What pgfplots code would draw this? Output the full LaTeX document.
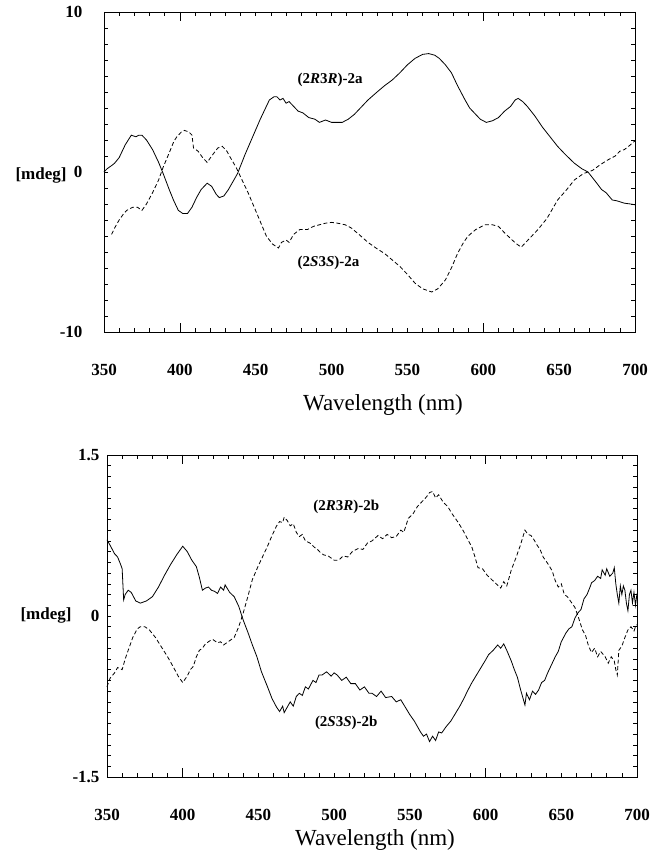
\documentclass[border=0pt]{standalone}
\usepackage{fontspec}
\setmainfont{Liberation Serif}
\usepackage{pgfplots}
\pgfplotsset{compat=1.18}

\pgfplotsset{
  cdaxis/.style={
    scale only axis,
    xmin=350, xmax=700,
    xtick={350,400,...,700},
    minor x tick num=4,
    tick align=inside,
    major tick length=4pt,
    minor tick length=4pt,
    tick style={black, line width=0.5pt},
    axis line style={line width=0.7pt},
    extra x ticks={400,600},
    extra x tick labels={},
    extra x tick style={major tick length=9pt},
    xticklabel style={font=\fontsize{17}{20}\selectfont\bfseries, yshift=-29pt},
    yticklabel style={font=\fontsize{17}{20}\selectfont\bfseries},
    /pgf/number format/assume math mode=true,
    clip=false,
  },
  solid curve/.style={black, line width=0.8pt},
  dashed curve/.style={black, line width=0.8pt, dash pattern=on 4pt off 2.5pt},
}

\begin{document}
\begin{tikzpicture}
\path[use as bounding box] (0pt,0pt) rectangle (649pt,856pt);

% ---- top panel: 2a ----
\begin{axis}[cdaxis,
    at={(104pt,524pt)}, anchor=south west,
    width=531pt, height=320pt,
    ymin=-10, ymax=10,
    ytick={-10,0,10}, yticklabels={-10,0,10},
    minor y tick num=9,
    yticklabel style={xshift=-18pt},
]
\addplot[solid curve] coordinates {
(350,0.0) (352,0.2) (355,0.4) (357,0.55) (360,0.9) (364,1.7) (368,2.3) (371,2.2) (373,2.3) (375,2.3)
(378,2.0) (382,1.4) (386,0.6) (389,-0.1) (393,-1.1) (396,-1.8) (399,-2.4) (402,-2.6) (405,-2.6) (408,-2.2)
(411,-1.6) (414,-1.1) (418,-0.7) (421,-0.9) (424,-1.4) (426,-1.6) (429,-1.5) (432,-1.1) (435,-0.6) (438,-0.1)
(443,1.1) (448,2.2) (453,3.3) (459,4.5) (462,4.7) (464,4.7) (466,4.5) (468,4.6) (470,4.3) (472,4.4)
(475,4.1) (478,3.8) (481,3.7) (485,3.4) (489,3.3) (492,3.1) (496,3.25) (500,3.1) (504,3.1) (507,3.1)
(511,3.3) (515,3.6) (520,4.1) (524,4.5) (530,5.0) (535,5.4) (540,5.75) (545,6.2) (550,6.7) (555,7.1)
(560,7.35) (564,7.4) (568,7.3) (571,7.1) (575,6.7) (579,6.2) (583,5.4) (588,4.5) (591,4.0) (595,3.6)
(598,3.3) (602,3.1) (606,3.2) (610,3.4) (614,3.8) (618,4.1) (621,4.5) (623,4.6) (626,4.4) (629,4.1)
(634,3.5) (639,2.8) (644,2.2) (649,1.6) (654,1.1) (660,0.55) (665,0.2) (669,0.0) (674,-0.6) (678,-1.1)
(681,-1.3) (685,-1.75) (688,-1.8) (693,-1.95) (697,-2.0) (700,-2.05)
};
\addplot[dashed curve] coordinates {
(355,-3.9) (357,-3.5) (360,-3.0) (363,-2.6) (365,-2.4) (369,-2.2) (372,-2.2) (375,-2.4) (378,-2.0) (382,-1.3)
(386,-0.5) (389,0.3) (393,1.2) (396,1.9) (398,2.2) (401,2.5) (403,2.6) (406,2.5) (408,2.3) (409,1.5)
(412,1.3) (415,0.9) (418,0.6) (421,1.0) (425,1.5) (428,1.6) (431,1.3) (433,0.95) (437,0.3) (440,-0.3)
(445,-1.3) (449,-2.2) (453,-3.1) (457,-4.0) (461,-4.5) (465,-4.75) (467,-4.4) (470,-4.25) (472,-4.4) (475,-3.9)
(479,-3.6) (484,-3.6) (488,-3.4) (492,-3.3) (496,-3.2) (500,-3.15) (504,-3.2) (509,-3.3) (513,-3.5) (518,-3.9)
(524,-4.4) (530,-4.8) (535,-5.1) (540,-5.5) (545,-5.9) (550,-6.4) (555,-6.95) (560,-7.3) (566,-7.5) (570,-7.3)
(575,-6.75) (579,-6.0) (583,-5.1) (587,-4.4) (590,-4.0) (595,-3.6) (601,-3.3) (606,-3.3) (610,-3.4) (614,-3.8)
(619,-4.25) (622,-4.5) (625,-4.7) (630,-4.2) (636,-3.6) (642,-2.9) (649,-1.75) (655,-1.1) (660,-0.5) (666,-0.1)
(672,0.1) (677,0.45) (682,0.75) (687,1.0) (690,1.3) (693,1.4) (697,1.7) (700,1.95)
};
\node[font=\fontsize{15}{18}\selectfont\bfseries] at (axis cs:499,5.75) {(2\textit{R}3\textit{R})-2a};
\node[font=\fontsize{15}{18}\selectfont\bfseries] at (axis cs:498,-5.7) {(2\textit{S}3\textit{S})-2a};
\end{axis}
\node[anchor=west, font=\fontsize{17}{20}\selectfont\bfseries] at (12pt,681pt) {[mdeg]};
\node[font=\fontsize{23}{26}\selectfont] at (383pt,451pt) {Wavelength (nm)};

% ---- bottom panel: 2b ----
\begin{axis}[cdaxis,
    at={(107pt,79pt)}, anchor=south west,
    width=530pt, height=322pt,
    ymin=-1.5, ymax=1.5,
    ytick={-1.5,0,1.5}, yticklabels={-1.5,0,1.5},
    minor y tick num=14,
    yticklabel style={xshift=-4pt},
]
\addplot[solid curve] coordinates {
(350,0.71) (352,0.66) (355,0.58) (357,0.55) (359,0.48) (360,0.44) (361,0.15) (362,0.2) (364,0.24) (366,0.22)
(369,0.14) (372,0.12) (376,0.14) (380,0.18) (384,0.27) (388,0.38) (392,0.48) (396,0.57) (400,0.65) (403,0.6)
(406,0.52) (409,0.46) (411,0.36) (413,0.24) (415,0.26) (417,0.27) (419,0.24) (421,0.23) (423,0.21) (425,0.27)
(427,0.24) (428,0.29) (431,0.22) (434,0.18) (437,0.09) (440,-0.04) (443,-0.15) (446,-0.27) (449,-0.38) (452,-0.52)
(456,-0.66) (459,-0.77) (462,-0.85) (464,-0.89) (466,-0.84) (467,-0.9) (469,-0.85) (471,-0.8) (473,-0.84) (475,-0.75)
(477,-0.72) (479,-0.74) (481,-0.66) (483,-0.68) (486,-0.6) (488,-0.62) (490,-0.55) (492,-0.55) (495,-0.52) (498,-0.56)
(500,-0.53) (502,-0.55) (505,-0.6) (508,-0.57) (511,-0.63) (514,-0.63) (517,-0.69) (520,-0.66) (523,-0.72) (525,-0.72)
(528,-0.75) (531,-0.7) (534,-0.76) (538,-0.75) (541,-0.8) (544,-0.78) (547,-0.85) (550,-0.92) (553,-0.98) (555,-1.03)
(557,-1.08) (559,-1.12) (561,-1.1) (563,-1.17) (565,-1.12) (567,-1.16) (569,-1.08) (571,-1.09) (574,-1.03) (577,-0.98)
(580,-0.91) (583,-0.84) (586,-0.76) (588,-0.7) (591,-0.62) (594,-0.55) (597,-0.48) (600,-0.41) (602,-0.36) (605,-0.32)
(608,-0.27) (610,-0.3) (612,-0.26) (614,-0.32) (617,-0.42) (619,-0.5) (621,-0.57) (623,-0.68) (625,-0.78) (626,-0.83)
(627,-0.72) (629,-0.78) (631,-0.7) (633,-0.73) (635,-0.69) (637,-0.62) (639,-0.6) (641,-0.53) (644,-0.44) (646,-0.38)
(648,-0.33) (650,-0.24) (653,-0.16) (655,-0.12) (657,-0.1) (659,-0.02) (661,0.03) (663,0.06) (665,0.16) (667,0.2)
(669,0.27) (670,0.31) (672,0.33) (674,0.37) (676,0.35) (677,0.43) (679,0.38) (680,0.44) (682,0.37) (684,0.4)
(685,0.45) (686,0.3) (687,0.2) (688,0.12) (689,0.28) (690,0.2) (691,0.28) (692,0.24) (693,0.12) (694,0.05)
(695,0.2) (696,0.24) (697,0.12) (698,0.22) (699,0.1) (700,0.21)
};
\addplot[dashed curve] coordinates {
(350,-0.66) (352,-0.58) (355,-0.53) (357,-0.48) (360,-0.5) (362,-0.4) (364,-0.32) (367,-0.2) (370,-0.12) (372,-0.1)
(375,-0.1) (378,-0.13) (382,-0.2) (386,-0.29) (390,-0.38) (394,-0.48) (397,-0.56) (400,-0.62) (403,-0.56) (405,-0.5)
(407,-0.47) (409,-0.38) (411,-0.32) (413,-0.3) (415,-0.26) (418,-0.23) (420,-0.22) (423,-0.25) (425,-0.24) (427,-0.27)
(430,-0.24) (434,-0.2) (437,-0.1) (440,0.03) (443,0.18) (446,0.34) (450,0.47) (453,0.56) (456,0.65) (459,0.75)
(462,0.84) (464,0.88) (466,0.87) (467,0.92) (469,0.89) (471,0.84) (473,0.86) (475,0.78) (477,0.74) (479,0.76)
(481,0.7) (484,0.68) (487,0.64) (489,0.62) (491,0.59) (493,0.57) (496,0.56) (500,0.52) (503,0.52) (506,0.56)
(509,0.55) (512,0.6) (516,0.63) (519,0.62) (522,0.68) (525,0.7) (529,0.75) (532,0.72) (535,0.76) (538,0.73)
(541,0.74) (544,0.8) (546,0.78) (549,0.91) (552,0.95) (555,1.02) (557,1.05) (559,1.08) (561,1.11) (563,1.15)
(565,1.16) (567,1.1) (569,1.13) (572,1.06) (575,1.02) (578,0.95) (582,0.87) (585,0.8) (588,0.72) (591,0.64)
(593,0.55) (595,0.45) (598,0.44) (601,0.38) (604,0.34) (607,0.3) (610,0.26) (612,0.32) (614,0.28) (617,0.43)
(620,0.54) (623,0.66) (626,0.8) (628,0.76) (630,0.75) (632,0.71) (634,0.66) (636,0.62) (638,0.55) (641,0.49)
(644,0.42) (646,0.33) (648,0.27) (650,0.3) (652,0.2) (654,0.18) (657,0.12) (659,0.08) (661,0.0) (664,-0.13)
(666,-0.18) (668,-0.28) (670,-0.34) (672,-0.3) (674,-0.38) (676,-0.33) (679,-0.38) (681,-0.44) (683,-0.38) (685,-0.42)
(686,-0.5) (687,-0.55) (688,-0.32) (690,-0.28) (692,-0.2) (694,-0.13) (696,-0.1) (698,-0.14) (699,-0.1) (700,-0.08)
};
\node[font=\fontsize{15}{18}\selectfont\bfseries] at (axis cs:508,1.02) {(2\textit{R}3\textit{R})-2b};
\node[font=\fontsize{15}{18}\selectfont\bfseries] at (axis cs:508,-1.0) {(2\textit{S}3\textit{S})-2b};
\end{axis}
\node[anchor=west, font=\fontsize{17}{20}\selectfont\bfseries] at (17pt,241pt) {[mdeg]};
\node[font=\fontsize{23}{26}\selectfont] at (375pt,16pt) {Wavelength (nm)};
\end{tikzpicture}
\end{document}
